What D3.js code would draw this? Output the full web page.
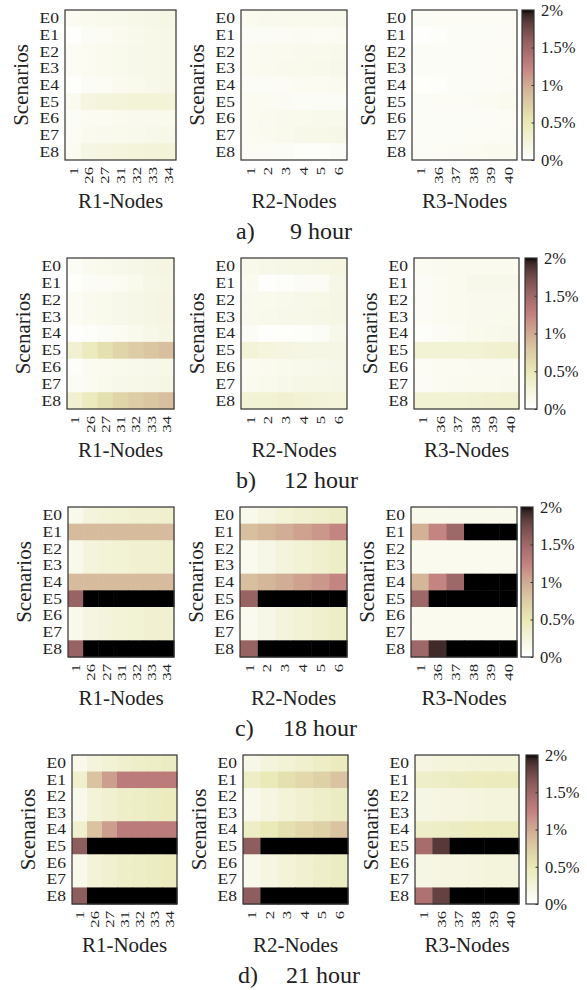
<!DOCTYPE html>
<html><head><meta charset="utf-8">
<script src="https://cdn.jsdelivr.net/npm/d3@7"></script>
<style>body{margin:0;background:#fff}svg{display:block}</style>
</head><body>
<script>
// ---------- data ----------
const scenarios = ["E0","E1","E2","E3","E4","E5","E6","E7","E8"];
const r1Nodes = ["1","26","27","31","32","33","34"];
const r2Nodes = ["1","2","3","4","5","6"];
const r3Nodes = ["1","36","37","38","39","40"];
const regionLabels = ["R1-Nodes","R2-Nodes","R3-Nodes"];
const captionLetters = ["a)","b)","c)","d)"];
const hourLabels = ["9 hour","12 hour","18 hour","21 hour"];
const colorTicks = [0,0.5,1,1.5,2];
const colorTickLabels = ["0%","0.5%","1%","1.5%","2%"];

// values in percent, rows = scenarios E0..E8, cols = nodes
const h9_R1 = [
 [0.10,0.12,0.14,0.15,0.17,0.18,0.20],
 [0.02,0.06,0.08,0.12,0.15,0.17,0.18],
 [0.08,0.10,0.12,0.14,0.16,0.17,0.18],
 [0.08,0.10,0.12,0.14,0.16,0.17,0.18],
 [0.03,0.06,0.08,0.12,0.14,0.16,0.18],
 [0.12,0.22,0.25,0.26,0.28,0.28,0.28],
 [0.06,0.10,0.10,0.12,0.13,0.13,0.14],
 [0.08,0.12,0.13,0.14,0.15,0.16,0.17],
 [0.10,0.20,0.22,0.24,0.26,0.27,0.28]];
const h9_R2 = [
 [0.12,0.13,0.13,0.14,0.14,0.15],
 [0.06,0.07,0.08,0.09,0.08,0.10],
 [0.10,0.11,0.12,0.13,0.14,0.15],
 [0.10,0.12,0.13,0.14,0.15,0.16],
 [0.06,0.07,0.08,0.10,0.10,0.12],
 [0.10,0.10,0.09,0.07,0.06,0.06],
 [0.10,0.12,0.13,0.14,0.15,0.15],
 [0.10,0.12,0.14,0.16,0.17,0.18],
 [0.08,0.08,0.06,0.05,0.05,0.06]];
const h9_R3 = [
 [0.07,0.08,0.08,0.08,0.08,0.08],
 [0.02,0.04,0.06,0.07,0.07,0.08],
 [0.06,0.07,0.07,0.07,0.08,0.08],
 [0.06,0.07,0.07,0.07,0.08,0.08],
 [0.03,0.05,0.06,0.07,0.08,0.09],
 [0.07,0.08,0.08,0.09,0.10,0.12],
 [0.06,0.07,0.07,0.07,0.08,0.08],
 [0.06,0.07,0.07,0.08,0.08,0.09],
 [0.07,0.08,0.09,0.10,0.12,0.12]];
const h12_R1 = [
 [0.06,0.12,0.14,0.16,0.18,0.20,0.22],
 [0.03,0.06,0.08,0.10,0.14,0.18,0.20],
 [0.08,0.12,0.14,0.16,0.18,0.20,0.22],
 [0.08,0.12,0.14,0.16,0.18,0.20,0.22],
 [0.02,0.05,0.07,0.10,0.14,0.17,0.20],
 [0.32,0.45,0.58,0.68,0.75,0.80,0.85],
 [0.05,0.10,0.12,0.14,0.15,0.16,0.17],
 [0.06,0.10,0.14,0.16,0.17,0.18,0.20],
 [0.32,0.45,0.58,0.68,0.75,0.80,0.85]];
const h12_R2 = [
 [0.15,0.17,0.18,0.19,0.20,0.22],
 [0.12,0.02,0.04,0.06,0.08,0.18],
 [0.13,0.14,0.15,0.16,0.17,0.20],
 [0.13,0.15,0.16,0.17,0.18,0.20],
 [0.06,0.02,0.03,0.05,0.06,0.16],
 [0.28,0.24,0.22,0.20,0.20,0.20],
 [0.10,0.12,0.14,0.15,0.16,0.18],
 [0.12,0.14,0.16,0.18,0.19,0.20],
 [0.30,0.30,0.32,0.30,0.28,0.26]];
const h12_R3 = [
 [0.10,0.11,0.12,0.12,0.12,0.12],
 [0.06,0.10,0.12,0.16,0.16,0.16],
 [0.08,0.10,0.12,0.13,0.13,0.13],
 [0.08,0.10,0.12,0.13,0.13,0.14],
 [0.04,0.08,0.10,0.14,0.15,0.16],
 [0.30,0.30,0.30,0.30,0.32,0.34],
 [0.08,0.10,0.10,0.11,0.11,0.12],
 [0.08,0.10,0.11,0.12,0.12,0.13],
 [0.30,0.30,0.30,0.31,0.32,0.34]];
const h18_R1 = [
 [0.15,0.25,0.28,0.30,0.32,0.33,0.35],
 [0.88,0.88,0.88,0.88,0.88,0.88,0.88],
 [0.15,0.25,0.28,0.30,0.32,0.33,0.35],
 [0.15,0.25,0.28,0.30,0.32,0.33,0.35],
 [0.88,0.88,0.88,0.88,0.88,0.88,0.88],
 [1.55,2.00,2.00,2.00,2.00,2.00,2.00],
 [0.15,0.22,0.25,0.28,0.30,0.32,0.33],
 [0.15,0.22,0.25,0.28,0.30,0.32,0.33],
 [1.55,2.00,2.00,2.00,2.00,2.00,2.00]];
const h18_R2 = [
 [0.15,0.22,0.28,0.32,0.36,0.40],
 [0.85,0.92,0.98,1.05,1.12,1.22],
 [0.12,0.18,0.25,0.30,0.35,0.40],
 [0.12,0.18,0.25,0.30,0.35,0.40],
 [0.85,0.92,0.98,1.05,1.12,1.22],
 [1.55,2.00,2.00,2.00,2.00,2.00],
 [0.12,0.18,0.25,0.30,0.35,0.40],
 [0.12,0.18,0.25,0.30,0.35,0.40],
 [1.55,2.00,2.00,2.00,2.00,2.00]];
const h18_R3 = [
 [0.15,0.15,0.15,0.15,0.15,0.15],
 [0.95,1.22,1.50,2.00,2.00,2.00],
 [0.12,0.12,0.12,0.12,0.12,0.12],
 [0.12,0.12,0.12,0.12,0.12,0.12],
 [0.92,1.22,1.50,2.00,2.00,2.00],
 [1.50,2.00,2.00,2.00,2.00,2.00],
 [0.12,0.12,0.12,0.12,0.12,0.12],
 [0.12,0.12,0.12,0.12,0.12,0.12],
 [1.50,1.92,2.00,2.00,2.00,2.00]];
const h21_R1 = [
 [0.15,0.25,0.30,0.35,0.38,0.40,0.42],
 [0.35,0.82,1.08,1.30,1.30,1.30,1.30],
 [0.15,0.28,0.33,0.38,0.40,0.42,0.45],
 [0.15,0.28,0.33,0.38,0.40,0.42,0.45],
 [0.35,0.82,1.08,1.30,1.30,1.30,1.30],
 [1.60,2.00,2.00,2.00,2.00,2.00,2.00],
 [0.15,0.28,0.33,0.38,0.40,0.42,0.45],
 [0.15,0.28,0.33,0.38,0.40,0.42,0.45],
 [1.60,2.00,2.00,2.00,2.00,2.00,2.00]];
const h21_R2 = [
 [0.18,0.25,0.30,0.35,0.40,0.45],
 [0.40,0.48,0.58,0.65,0.72,0.82],
 [0.15,0.22,0.28,0.33,0.38,0.42],
 [0.15,0.22,0.28,0.33,0.38,0.42],
 [0.40,0.48,0.58,0.65,0.72,0.82],
 [1.60,2.00,2.00,2.00,2.00,2.00],
 [0.15,0.22,0.28,0.33,0.38,0.42],
 [0.15,0.22,0.28,0.33,0.38,0.42],
 [1.60,2.00,2.00,2.00,2.00,2.00]];
const h21_R3 = [
 [0.22,0.25,0.26,0.27,0.28,0.28],
 [0.38,0.40,0.42,0.44,0.45,0.45],
 [0.20,0.22,0.23,0.24,0.25,0.25],
 [0.20,0.22,0.23,0.24,0.25,0.25],
 [0.38,0.40,0.42,0.44,0.45,0.45],
 [1.45,1.85,2.00,2.00,2.00,2.00],
 [0.20,0.22,0.23,0.24,0.25,0.25],
 [0.20,0.22,0.23,0.24,0.25,0.25],
 [1.40,1.80,2.00,2.00,2.00,2.00]];

const nodeSets = [r1Nodes, r2Nodes, r3Nodes];
const hourData = [
 [h9_R1, h9_R2, h9_R3],
 [h12_R1, h12_R2, h12_R3],
 [h18_R1, h18_R2, h18_R3],
 [h21_R1, h21_R2, h21_R3]];

// ---------- layout ----------
const W = 587, H = 990;
const FONT = "Liberation Serif";
const TXT = "#222";
const layout = [
 {y:[10,160],  p:[[65,176],[241,347],[412,517]], cb:[522,534]},
 {y:[258,409], p:[[67,174],[241,347],[414,519]], cb:[525,537]},
 {y:[507,657], p:[[68,174],[240,347],[411,517]], cb:[521,533]},
 {y:[755,904], p:[[72,177],[243,348],[415,519]], cb:[526,538]}];

// reversed MATLAB "pink" colormap: 0 -> white, 2% -> black
function pinkMap(t){
  const cl = x => Math.max(0, Math.min(1, x));
  const hr = cl(t/0.375), hg = cl((t-0.375)/0.375), hb = cl((t-0.75)/0.25);
  const f = h => Math.round(255*Math.sqrt((2*t + h)/3));
  return `rgb(${f(hr)},${f(hg)},${f(hb)})`;
}
const color = d3.scaleSequential(v => pinkMap(1 - v)).domain([0,2]).clamp(true);

const svg = d3.select("body").append("svg").attr("width", W).attr("height", H);
const border = "#333";
const styleText = sel => sel.attr("font-family", FONT).attr("fill", TXT);

layout.forEach((L, ri) => {
  const [y0, y1] = L.y;
  const yS = d3.scaleBand().domain(scenarios).range([y0, y1]).padding(0);
  L.p.forEach((px, ci) => {
    const nodes = nodeSets[ci];
    const vals = hourData[ri][ci];
    const xS = d3.scaleBand().domain(nodes).range(px).padding(0);
    const g = svg.append("g");
    const cells = [];
    vals.forEach((row, i) => row.forEach((v, j) => cells.push({s: scenarios[i], n: nodes[j], v})));
    g.selectAll("rect.cell").data(cells).join("rect")
      .attr("class","cell")
      .attr("x", d => xS(d.n)).attr("y", d => yS(d.s))
      .attr("width", xS.bandwidth() + 0.5).attr("height", yS.bandwidth() + 0.5)
      .attr("fill", d => color(d.v));
    g.append("rect").attr("x", px[0]).attr("y", y0).attr("width", px[1]-px[0]).attr("height", y1-y0)
      .attr("fill","none").attr("stroke", border).attr("stroke-width", 1.2);
    // y tick labels (stretched horizontally so the glyph boxes fit the rows)
    const ya = g.append("g").attr("transform", `translate(${px[0]},0)`)
      .call(d3.axisLeft(yS).tickSize(0).tickPadding(0));
    ya.attr("font-family", FONT);
    ya.select(".domain").remove();
    ya.selectAll("text").attr("font-size", 14.6).call(styleText)
      .attr("x", 0).attr("dy", "0.34em").attr("transform", "translate(-6,0) scale(1.2,1)");
    // x tick labels, rotated (stretched along their length)
    const xa = g.append("g").attr("transform", `translate(0,${y1})`)
      .call(d3.axisBottom(xS).tickSize(0).tickPadding(0));
    xa.attr("font-family", FONT);
    xa.select(".domain").remove();
    xa.selectAll("text").attr("font-size", 13.4).call(styleText)
      .attr("text-anchor","end").attr("dy","0.35em").attr("y",0).attr("x",0)
      .attr("transform","translate(0,7) rotate(-90) scale(1.25,1)");
    // axis labels
    g.append("text").attr("transform", `translate(${px[0]-44},${(y0+y1)/2}) rotate(-90)`)
      .attr("text-anchor","middle").attr("dy","0.35em").attr("font-size", 21)
      .call(styleText).text("Scenarios");
    g.append("text").attr("x", (px[0]+px[1])/2).attr("y", y1 + 41).attr("dy","0.35em")
      .attr("text-anchor","middle").attr("font-size", 21).call(styleText).text(regionLabels[ci]);
  });
  // caption
  const p2 = L.p[1][0];
  svg.append("text").attr("x", p2 - 5).attr("y", y1 + 71).attr("dy","0.35em")
    .attr("font-size", 24).call(styleText).text(captionLetters[ri]);
  svg.append("text").attr("x", p2 + 80).attr("y", y1 + 71).attr("dy","0.35em")
    .attr("text-anchor","middle").attr("font-size", 24).call(styleText).text(hourLabels[ri]);

  // colorbar
  const gid = "cbgrad" + ri;
  const grad = svg.append("defs").append("linearGradient").attr("id", gid)
    .attr("x1","0").attr("y1","1").attr("x2","0").attr("y2","0");
  d3.range(0, 1.0001, 0.02).forEach(t => grad.append("stop")
    .attr("offset", t).attr("stop-color", color(t*2)));
  const [cx0, cx1] = L.cb;
  svg.append("rect").attr("x", cx0).attr("y", y0).attr("width", cx1-cx0).attr("height", y1-y0)
    .attr("fill", `url(#${gid})`).attr("stroke", border).attr("stroke-width", 1.2);
  const cS = d3.scaleLinear().domain([0,2]).range([y1, y0]);
  const ca = svg.append("g").attr("transform", `translate(${cx1},0)`)
    .call(d3.axisRight(cS).tickValues(colorTicks).tickSize(-2.5).tickPadding(7)
      .tickFormat((d,i) => colorTickLabels[i]));
  ca.attr("font-family", FONT);
  ca.select(".domain").remove();
  ca.selectAll("line").attr("stroke", border);
  ca.selectAll("text").attr("font-size", 16.5).call(styleText);
});
</script>
</body></html>
